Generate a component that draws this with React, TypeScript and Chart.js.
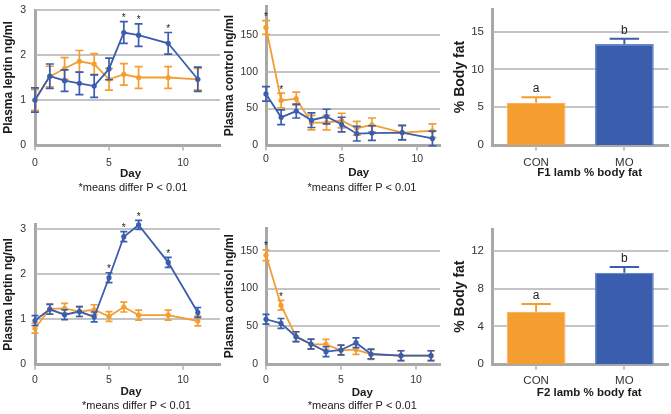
import React, { useEffect, useRef } from "react";
import { Chart, registerables } from "chart.js";

Chart.register(...registerables);

// ---------- DATA ----------
const days = [0, 1, 2, 3, 4, 5, 6, 7, 9, 11];

const f1LeptinCON = [1.0, 1.52, 1.7, 1.86, 1.8, 1.46, 1.57, 1.5, 1.5, 1.46];
const f1LeptinCONErr = [0.23, 0.23, 0.24, 0.24, 0.23, 0.24, 0.24, 0.24, 0.24, 0.24];
const f1LeptinMO = [1.0, 1.53, 1.43, 1.37, 1.31, 1.69, 2.5, 2.44, 2.26, 1.46];
const f1LeptinMOErr = [0.27, 0.27, 0.24, 0.25, 0.25, 0.24, 0.24, 0.25, 0.24, 0.27];
const f1LeptinSig = [6, 7, 9];

const f1CortisolCON = [161, 61, 63.5, 30.6, 30.6, 33.5, 23, 27.5, 17, 19.5];
const f1CortisolCONErr = [9.5, 10, 9, 10, 10, 10, 9.5, 9.5, 9.5, 9.5];
const f1CortisolMO = [70, 38, 46.5, 34, 39, 28, 15.5, 16.4, 17, 9];
const f1CortisolMOErr = [10, 10, 9.5, 10, 10, 10, 10, 10, 10, 10];
const f1CortisolSig = [0, 1];

const f2LeptinCON = [0.8, 1.23, 1.24, 1.17, 1.21, 1.06, 1.27, 1.09, 1.09, 0.96];
const f2LeptinCONErr = [0.11, 0.11, 0.11, 0.11, 0.11, 0.11, 0.11, 0.11, 0.11, 0.11];
const f2LeptinMO = [0.97, 1.22, 1.1, 1.17, 1.05, 1.92, 2.83, 3.09, 2.26, 1.15];
const f2LeptinMOErr = [0.11, 0.11, 0.11, 0.11, 0.11, 0.11, 0.11, 0.1, 0.11, 0.11];
const f2LeptinSig = [5, 6, 7, 9];

const f2CortisolCON = [144, 78, 36.5, 26.4, 26.4, 18.5, 19.5, 13, 11.4, 11.4];
const f2CortisolCONErr = [7, 6.5, 6.5, 6.5, 6.5, 6.5, 6.5, 6.5, 6.5, 6.5];
const f2CortisolMO = [59.5, 54, 36.5, 26.8, 16.7, 18.9, 28.5, 13.6, 11.4, 11.4];
const f2CortisolMOErr = [6.5, 6.5, 6.5, 6.5, 6.5, 6.5, 6.5, 6.5, 6.5, 6.5];
const f2CortisolSig = [0, 1];

const barCategories = ["CON", "MO"];
const f1FatValues = [5.6, 13.36];
const f1FatErr = [0.73, 0.71];
const f1FatLetters = ["a", "b"];
const f2FatValues = [5.56, 9.68];
const f2FatErr = [0.81, 0.6];
const f2FatLetters = ["a", "b"];

const footnote = "*means differ P < 0.01";

// ---------- STYLE ----------
const FONT = "'Liberation Sans', Arial, Helvetica, sans-serif";
const AXIS = "#a8a8a8";
const GRID = "#c4c4c4";
const ORANGE = "#F49D31";
const BLUE = "#3B5DAD";
const ORANGE_EDGE = "#F8B464";
const BLUE_EDGE = "#6A88CC";
const TICK_COLOR = "#333333";
const TITLE_COLOR = "#1a1a1a";
const TL = 8; // Chart.js default tick length (still reserved when the grid is hidden)

type Area = { l: number; t: number; r: number; b: number };
type Rect = { left: number; top: number; width: number; height: number; area: Area };
type Note = { text: string; dx: number; dy: number; font: string };

// ---------- PLUGINS ----------
// horizontal gridlines at the y ticks and short tick marks under the x axis
const gridPlugin = {
  id: "panelGrid",
  beforeDatasetsDraw(chart: any) {
    const { ctx, chartArea, scales } = chart;
    const y = scales.y;
    const x = scales.x;
    ctx.save();
    ctx.strokeStyle = GRID;
    ctx.lineWidth = 2;
    ctx.beginPath();
    y.ticks.forEach((t: any) => {
      if (t.value === 0) return;
      const py = Math.round(y.getPixelForValue(t.value));
      ctx.moveTo(chartArea.left + 1.5, py);
      ctx.lineTo(chartArea.right, py);
    });
    x.ticks.forEach((_t: any, i: number) => {
      const px = Math.round(x.getPixelForTick(i));
      ctx.moveTo(px, chartArea.bottom + 1.5);
      ctx.lineTo(px, chartArea.bottom + 5.5);
    });
    ctx.stroke();
    ctx.restore();
  },
};

const errorBarPlugin = {
  id: "errorBars",
  afterDatasetDraw(chart: any, args: any) {
    const ds = chart.data.datasets[args.index];
    const errs: number[] | undefined = ds.errors;
    if (!errs) return;
    const meta = args.meta;
    const yScale = chart.scales[meta.yAxisID];
    const ctx = chart.ctx;
    ctx.save();
    ctx.lineWidth = ds.errorLineWidth ?? 1.6;
    meta.data.forEach((el: any, i: number) => {
      const v = meta.controller.getParsed(i).y;
      const e = errs[i];
      const color = Array.isArray(ds.errorColors) ? ds.errorColors[i] : ds.borderColor;
      const half = ds.errorOneSided ? el.width * 0.25 : ds.capHalf ?? 4;
      const yTop = yScale.getPixelForValue(v + e);
      const yBot = ds.errorOneSided ? yScale.getPixelForValue(v) : yScale.getPixelForValue(v - e);
      ctx.strokeStyle = color;
      ctx.beginPath();
      ctx.moveTo(el.x, yTop);
      ctx.lineTo(el.x, yBot);
      ctx.moveTo(el.x - half, yTop);
      ctx.lineTo(el.x + half, yTop);
      if (!ds.errorOneSided) {
        ctx.moveTo(el.x - half, yBot);
        ctx.lineTo(el.x + half, yBot);
      }
      ctx.stroke();
    });
    ctx.restore();
  },
};

function makeMarksPlugin(labels: string[], font: string, gap: number) {
  return {
    id: "marks",
    afterDatasetsDraw(chart: any) {
      const ctx = chart.ctx;
      const yScale = chart.scales.y;
      labels.forEach((txt, i) => {
        if (!txt) return;
        let top = Infinity;
        let x = 0;
        chart.data.datasets.forEach((ds: any, di: number) => {
          const meta = chart.getDatasetMeta(di);
          const el = meta.data[i];
          if (!el) return;
          const v = meta.controller.getParsed(i).y;
          const err = ds.errors ? ds.errors[i] : 0;
          const py = yScale.getPixelForValue(v + err);
          if (py < top) {
            top = py;
            x = el.x;
          }
        });
        ctx.save();
        ctx.font = font;
        ctx.fillStyle = "#222";
        ctx.textAlign = "center";
        ctx.textBaseline = "alphabetic";
        ctx.fillText(txt, x, top - gap);
        ctx.restore();
      });
    },
  };
}

function makeNotesPlugin(notes: Note[]) {
  return {
    id: "notes",
    afterDraw(chart: any) {
      const { ctx, chartArea } = chart;
      const cx = (chartArea.left + chartArea.right) / 2;
      ctx.save();
      ctx.fillStyle = TITLE_COLOR;
      ctx.textAlign = "center";
      ctx.textBaseline = "middle";
      notes.forEach((n) => {
        ctx.font = n.font;
        ctx.fillText(n.text, cx + n.dx, chartArea.bottom + n.dy);
      });
      ctx.restore();
    },
  };
}

// ---------- CONFIG BUILDERS ----------
function lineConfig(o: {
  rect: Rect;
  yMax: number;
  yStep: number;
  xMax: number;
  yTitle: string;
  yTitlePad: number;
  xTickPad: number;
  yTickPad: number;
  con: number[];
  conErr: number[];
  mo: number[];
  moErr: number[];
  sig: number[];
  capHalf: number;
  dayDx: number;
  dayDy: number;
  footDx: number;
  footDy: number;
}) {
  const { rect } = o;
  const a = rect.area;
  const marks = days.map((d) => (o.sig.includes(d) ? "*" : ""));
  const common = {
    borderWidth: 1.8,
    pointRadius: 2.6,
    pointBorderWidth: 0,
    tension: 0,
    clip: false as any,
    capHalf: o.capHalf,
    errorLineWidth: 1.7,
  };
  return {
    type: "line",
    data: {
      datasets: [
        {
          ...common,
          label: "MO",
          data: days.map((d, i) => ({ x: d, y: o.mo[i] })),
          errors: o.moErr,
          borderColor: BLUE,
          backgroundColor: BLUE,
          pointBackgroundColor: BLUE,
        },
        {
          ...common,
          label: "CON",
          data: days.map((d, i) => ({ x: d, y: o.con[i] })),
          errors: o.conErr,
          borderColor: ORANGE,
          backgroundColor: ORANGE,
          pointBackgroundColor: ORANGE,
        },
      ],
    },
    options: {
      animation: false,
      responsive: false,
      devicePixelRatio: 1,
      layout: {
        padding: { left: 0, top: a.t - rect.top, right: rect.left + rect.width - a.r, bottom: 0 },
      },
      scales: {
        x: {
          type: "linear",
          min: 0,
          max: o.xMax,
          afterFit: (s: any) => {
            s.height = rect.top + rect.height - a.b;
          },
          ticks: {
            stepSize: 5,
            includeBounds: false,
            padding: o.xTickPad + 4 - TL,
            color: TICK_COLOR,
            font: { family: FONT, size: 10.5 },
            maxRotation: 0,
          },
          grid: { display: false },
          border: { color: AXIS, width: 3 },
        },
        y: {
          min: 0,
          max: o.yMax,
          afterFit: (s: any) => {
            s.width = a.l - rect.left;
          },
          ticks: {
            stepSize: o.yStep,
            includeBounds: false,
            padding: Math.max(0, o.yTickPad - TL),
            color: TICK_COLOR,
            font: { family: FONT, size: 10.5 },
          },
          grid: { display: false },
          border: { color: AXIS, width: 3 },
          title: {
            display: true,
            text: o.yTitle,
            color: TITLE_COLOR,
            font: { family: FONT, size: 12, weight: "bold" },
            padding: { top: o.yTitlePad, bottom: 0 },
          },
        },
      },
      plugins: { legend: { display: false }, tooltip: { enabled: false } },
    },
    plugins: [
      gridPlugin,
      errorBarPlugin,
      makeMarksPlugin(marks, `10px ${FONT}`, 0.5),
      makeNotesPlugin([
        { text: "Day", dx: o.dayDx, dy: o.dayDy, font: `bold 11.5px ${FONT}` },
        { text: footnote, dx: o.footDx, dy: o.footDy, font: `11px ${FONT}` },
      ]),
    ],
  };
}

function barConfig(o: {
  rect: Rect;
  yMax: number;
  yStep: number;
  values: number[];
  errs: number[];
  letters: string[];
  title: string;
  titleDx: number;
  titleDy: number;
  yTitlePad: number;
  xTickPad: number;
}) {
  const { rect } = o;
  const a = rect.area;
  return {
    type: "bar",
    data: {
      labels: barCategories,
      datasets: [
        {
          data: o.values,
          errors: o.errs,
          errorOneSided: true,
          errorColors: [ORANGE, BLUE],
          errorLineWidth: 2,
          backgroundColor: [ORANGE, BLUE],
          borderColor: [ORANGE_EDGE, BLUE_EDGE],
          borderWidth: 1.2,
          categoryPercentage: 0.667,
          barPercentage: 1,
          clip: false as any,
        },
      ],
    },
    options: {
      animation: false,
      responsive: false,
      devicePixelRatio: 1,
      layout: {
        padding: { left: 0, top: a.t - rect.top, right: rect.left + rect.width - a.r, bottom: 0 },
      },
      scales: {
        x: {
          afterFit: (s: any) => {
            s.height = rect.top + rect.height - a.b;
          },
          ticks: { padding: o.xTickPad + 4 - TL, color: TICK_COLOR, font: { family: FONT, size: 11.5 } },
          grid: { display: false },
          border: { color: AXIS, width: 3 },
        },
        y: {
          min: 0,
          max: o.yMax,
          afterFit: (s: any) => {
            s.width = a.l - rect.left;
          },
          ticks: {
            stepSize: o.yStep,
            includeBounds: false,
            padding: 0,
            color: TICK_COLOR,
            font: { family: FONT, size: 11.5 },
          },
          grid: { display: false },
          border: { color: AXIS, width: 3 },
          title: {
            display: true,
            text: "% Body fat",
            color: TITLE_COLOR,
            font: { family: FONT, size: 14, weight: "bold" },
            padding: { top: o.yTitlePad, bottom: 0 },
          },
        },
      },
      plugins: { legend: { display: false }, tooltip: { enabled: false } },
    },
    plugins: [
      gridPlugin,
      errorBarPlugin,
      makeMarksPlugin(o.letters, `12px ${FONT}`, 5),
      makeNotesPlugin([{ text: o.title, dx: o.titleDx, dy: o.titleDy, font: `bold 11.5px ${FONT}` }]),
    ],
  };
}

// ---------- PANELS ----------
const rTL: Rect = { left: 0, top: 0, width: 224, height: 200, area: { l: 35, t: 10, r: 222, b: 145 } };
const rTM: Rect = { left: 222, top: 0, width: 222, height: 200, area: { l: 266, t: 2.2, r: 441.5, b: 145 } };
const rTR: Rect = { left: 444, top: 0, width: 227, height: 200, area: { l: 492, t: 9, r: 668.5, b: 145 } };
const rBL: Rect = { left: 0, top: 205, width: 224, height: 209, area: { l: 35, t: 224.5, r: 222, b: 364.3 } };
const rBM: Rect = { left: 222, top: 205, width: 222, height: 209, area: { l: 266, t: 228, r: 441.7, b: 364.3 } };
const rBR: Rect = { left: 444, top: 205, width: 227, height: 209, area: { l: 492, t: 229, r: 668.5, b: 364.3 } };

function ChartPanel({ rect, build }: { rect: Rect; build: () => any }) {
  const ref = useRef<HTMLCanvasElement>(null);
  useEffect(() => {
    const chart = new Chart(ref.current as HTMLCanvasElement, build());
    return () => chart.destroy();
  }, []);
  return (
    <canvas
      ref={ref}
      width={rect.width}
      height={rect.height}
      style={{ position: "absolute", left: rect.left, top: rect.top, width: rect.width, height: rect.height }}
    />
  );
}

export default function App() {
  return (
    <div style={{ position: "fixed", left: 0, top: 0, width: 671, height: 414, background: "#fff", overflow: "hidden" }}>
      <ChartPanel
        rect={rTL}
        build={() =>
          lineConfig({
            rect: rTL, yMax: 3, yStep: 1, xMax: 12.5,
            yTitle: "Plasma leptin ng/ml", yTitlePad: 1.5, xTickPad: 8, yTickPad: 9,
            con: f1LeptinCON, conErr: f1LeptinCONErr, mo: f1LeptinMO, moErr: f1LeptinMOErr,
            sig: f1LeptinSig, capHalf: 4, dayDx: 3, dayDy: 28.5, footDx: 5.5, footDy: 42.7,
          })
        }
      />
      <ChartPanel
        rect={rTM}
        build={() =>
          lineConfig({
            rect: rTM, yMax: 190, yStep: 50, xMax: 11.5,
            yTitle: "Plasma control ng/ml", yTitlePad: 0.8, xTickPad: 4, yTickPad: 8,
            con: f1CortisolCON, conErr: f1CortisolCONErr, mo: f1CortisolMO, moErr: f1CortisolMOErr,
            sig: f1CortisolSig, capHalf: 4, dayDx: 5.7, dayDy: 28.3, footDx: 9, footDy: 43.3,
          })
        }
      />
      <ChartPanel
        rect={rTR}
        build={() =>
          barConfig({
            rect: rTR, yMax: 18, yStep: 5, values: f1FatValues, errs: f1FatErr, letters: f1FatLetters,
            title: "F1 lamb % body fat", titleDx: 9.4, titleDy: 28.3, yTitlePad: 7.6, xTickPad: 6.6,
          })
        }
      />
      <ChartPanel
        rect={rBL}
        build={() =>
          lineConfig({
            rect: rBL, yMax: 3.1, yStep: 1, xMax: 12.5,
            yTitle: "Plasma leptin ng/ml", yTitlePad: 1.5, xTickPad: 5.4, yTickPad: 9,
            con: f2LeptinCON, conErr: f2LeptinCONErr, mo: f2LeptinMO, moErr: f2LeptinMOErr,
            sig: f2LeptinSig, capHalf: 3.5, dayDx: 3.5, dayDy: 27.7, footDx: 9, footDy: 41.4,
          })
        }
      />
      <ChartPanel
        rect={rBM}
        build={() =>
          lineConfig({
            rect: rBM, yMax: 180, yStep: 50, xMax: 11.6,
            yTitle: "Plasma cortisol ng/ml", yTitlePad: 0.8, xTickPad: 5.4, yTickPad: 8,
            con: f2CortisolCON, conErr: f2CortisolCONErr, mo: f2CortisolMO, moErr: f2CortisolMOErr,
            sig: f2CortisolSig, capHalf: 3.5, dayDx: 9.3, dayDy: 28.4, footDx: 9.3, footDy: 42,
          })
        }
      />
      <ChartPanel
        rect={rBR}
        build={() =>
          barConfig({
            rect: rBR, yMax: 14.3, yStep: 4, values: f2FatValues, errs: f2FatErr, letters: f2FatLetters,
            title: "F2 lamb % body fat", titleDx: 9, titleDy: 29, yTitlePad: 7.6, xTickPad: 5.6,
          })
        }
      />
    </div>
  );
}
